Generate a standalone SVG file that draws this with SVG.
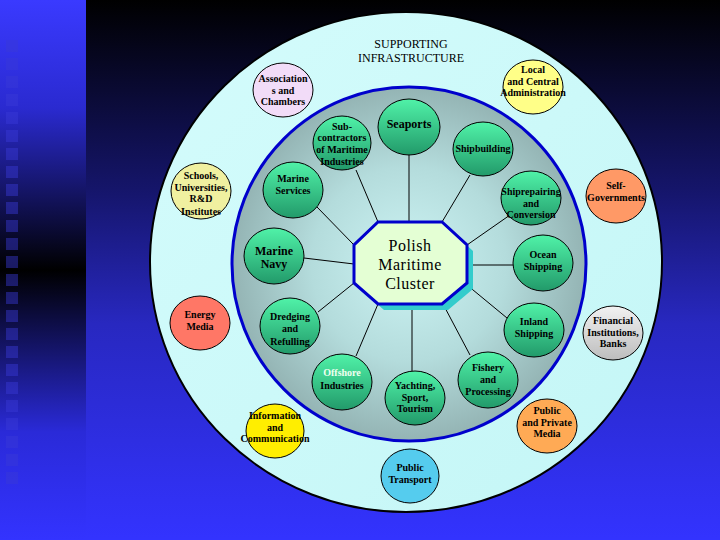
<svg xmlns="http://www.w3.org/2000/svg" width="720" height="540" viewBox="0 0 720 540">
<defs>
<linearGradient id="bgMain" x1="0" y1="0" x2="0" y2="1">
<stop offset="0" stop-color="#000000"/>
<stop offset="0.35" stop-color="#15156a"/>
<stop offset="0.6" stop-color="#2828c0"/>
<stop offset="1" stop-color="#3333ff"/>
</linearGradient>
<linearGradient id="bgStrip" x1="0" y1="0" x2="0" y2="1">
<stop offset="0" stop-color="#3a3aff"/>
<stop offset="0.2" stop-color="#2a2ad0"/>
<stop offset="0.5" stop-color="#000000"/>
<stop offset="0.8" stop-color="#2a2ad8"/>
<stop offset="1" stop-color="#3333ff"/>
</linearGradient>
<linearGradient id="outerFill" x1="0" y1="0" x2="1" y2="1">
<stop offset="0" stop-color="#d4fcfc"/>
<stop offset="1" stop-color="#c4f6f6"/>
</linearGradient>
<radialGradient id="innerFill" cx="0.5" cy="0.5" r="0.5">
<stop offset="0" stop-color="#cdf4f4"/>
<stop offset="0.55" stop-color="#b4dcdc"/>
<stop offset="1" stop-color="#94b4b4"/>
</radialGradient>
<linearGradient id="green" x1="0" y1="0" x2="0" y2="1">
<stop offset="0" stop-color="#50f2a8"/>
<stop offset="1" stop-color="#229a6a"/>
</linearGradient>
<linearGradient id="gray" x1="0" y1="0" x2="0" y2="1">
<stop offset="0" stop-color="#f2f2f2"/>
<stop offset="1" stop-color="#bdbdbd"/>
</linearGradient>
<style>
.n{stroke:#000;stroke-width:1}
.g{fill:url(#green)}
.t{font-family:"Liberation Serif","Times New Roman",serif;font-weight:bold;font-size:10px;fill:#000;text-anchor:middle}
.big{font-size:12px}
.sup{font-family:"Liberation Serif","Times New Roman",serif;font-size:12px;fill:#000;text-anchor:middle}
.ctr{font-family:"Liberation Serif","Times New Roman",serif;font-size:16px;fill:#000;text-anchor:middle;letter-spacing:0.5px}
.sq{fill:#3a3ad8;opacity:0.45}
</style>
</defs>

<g id="background">
<rect x="0" y="0" width="720" height="540" fill="url(#bgMain)"/>
<rect x="0" y="0" width="86" height="540" fill="url(#bgStrip)"/>
<g id="squares">
<rect class="sq" x="6" y="40" width="12" height="12"/>
<rect class="sq" x="6" y="58" width="12" height="12"/>
<rect class="sq" x="6" y="76" width="12" height="12"/>
<rect class="sq" x="6" y="94" width="12" height="12"/>
<rect class="sq" x="6" y="112" width="12" height="12"/>
<rect class="sq" x="6" y="130" width="12" height="12"/>
<rect class="sq" x="6" y="148" width="12" height="12"/>
<rect class="sq" x="6" y="166" width="12" height="12"/>
<rect class="sq" x="6" y="184" width="12" height="12"/>
<rect class="sq" x="6" y="202" width="12" height="12"/>
<rect class="sq" x="6" y="220" width="12" height="12"/>
<rect class="sq" x="6" y="238" width="12" height="12"/>
<rect class="sq" x="6" y="256" width="12" height="12"/>
<rect class="sq" x="6" y="274" width="12" height="12"/>
<rect class="sq" x="6" y="292" width="12" height="12"/>
<rect class="sq" x="6" y="310" width="12" height="12"/>
<rect class="sq" x="6" y="328" width="12" height="12"/>
<rect class="sq" x="6" y="346" width="12" height="12"/>
<rect class="sq" x="6" y="364" width="12" height="12"/>
<rect class="sq" x="6" y="382" width="12" height="12"/>
<rect class="sq" x="6" y="400" width="12" height="12"/>
<rect class="sq" x="6" y="418" width="12" height="12"/>
<rect class="sq" x="6" y="436" width="12" height="12"/>
<rect class="sq" x="6" y="454" width="12" height="12"/>
<rect class="sq" x="6" y="472" width="12" height="12"/>
</g>
</g>

<g id="rings">
<ellipse cx="406" cy="262" rx="256" ry="250" fill="url(#outerFill)" stroke="#000" stroke-width="2"/>
<circle cx="409" cy="264" r="177" fill="url(#innerFill)" stroke="#0000cc" stroke-width="3"/>
</g>

<g id="title">
<text class="sup" x="411" y="48">SUPPORTING</text>
<text class="sup" x="411" y="62">INFRASTRUCTURE</text>
</g>

<g id="connectors" stroke="#000" stroke-width="1" fill="none">
<line x1="409" y1="154" x2="409" y2="222"/>
<line x1="356" y1="170" x2="378" y2="222"/>
<line x1="470" y1="175" x2="442" y2="222"/>
<line x1="317" y1="207" x2="354" y2="245"/>
<line x1="510" y1="215" x2="467" y2="245"/>
<line x1="304" y1="258" x2="354" y2="264"/>
<line x1="467" y1="265" x2="513" y2="265"/>
<line x1="318" y1="312" x2="354" y2="283"/>
<line x1="467" y1="285" x2="507" y2="318"/>
<line x1="356" y1="356" x2="378" y2="304"/>
<line x1="412" y1="304" x2="412" y2="371"/>
<line x1="443" y1="304" x2="470" y2="355"/>
</g>

<g id="cluster">
<polygon points="384,228 448,228 473,251 473,289 448,310 384,310 360,289 360,251" fill="#33cccc"/>
<polygon points="378,222 442,222 467,245 467,283 442,304 378,304 354,283 354,245" fill="#e4ffd4" stroke="#0000cc" stroke-width="3"/>
<text class="ctr" x="410" y="251">Polish</text>
<text class="ctr" x="410" y="270">Maritime</text>
<text class="ctr" x="410" y="289">Cluster</text>
</g>

<g id="seaports"><ellipse class="n g" cx="409" cy="127" rx="31" ry="28"/><text class="t big" x="409" y="128">Seaports</text></g>
<g id="subcontractors"><ellipse class="n g" cx="342" cy="143" rx="29" ry="27"/>
<text class="t" x="342" y="130">Sub-</text><text class="t" x="342" y="141">contractors</text><text class="t" x="342" y="153">of Maritime</text><text class="t" x="342" y="165">Industries</text></g>
<g id="shipbuilding"><ellipse class="n g" cx="483" cy="149" rx="30" ry="27"/><text class="t" x="483" y="152">Shipbuilding</text></g>
<g id="marine-services"><ellipse class="n g" cx="293" cy="190" rx="30" ry="28"/>
<text class="t" x="293" y="182">Marine</text><text class="t" x="293" y="194">Services</text></g>
<g id="shiprepairing"><ellipse class="n g" cx="531" cy="198" rx="30" ry="27"/>
<text class="t" x="531" y="195">Shiprepairing</text><text class="t" x="531" y="207">and</text><text class="t" x="531" y="218">Conversion</text></g>
<g id="marine-navy"><ellipse class="n g" cx="274" cy="256" rx="30" ry="28"/>
<text class="t big" x="274" y="255">Marine</text><text class="t big" x="274" y="268">Navy</text></g>
<g id="ocean-shipping"><ellipse class="n g" cx="543" cy="263" rx="30" ry="28"/>
<text class="t" x="543" y="258">Ocean</text><text class="t" x="543" y="270">Shipping</text></g>
<g id="dredging"><ellipse class="n g" cx="290" cy="326" rx="30" ry="28"/>
<text class="t" x="290" y="320">Dredging</text><text class="t" x="290" y="332">and</text><text class="t" x="290" y="345">Refulling</text></g>
<g id="inland-shipping"><ellipse class="n g" cx="534" cy="330" rx="30" ry="27"/>
<text class="t" x="534" y="325">Inland</text><text class="t" x="534" y="337">Shipping</text></g>
<g id="offshore"><ellipse class="n g" cx="342" cy="382" rx="30" ry="28"/>
<text class="t" x="342" y="376" style="fill:#f0fff0">Offshore</text><text class="t" x="342" y="389">Industries</text></g>
<g id="yachting"><ellipse class="n g" cx="415" cy="398" rx="30" ry="27"/>
<text class="t" x="415" y="389">Yachting,</text><text class="t" x="415" y="401">Sport,</text><text class="t" x="415" y="412">Tourism</text></g>
<g id="fishery"><ellipse class="n g" cx="488" cy="380" rx="30" ry="28"/>
<text class="t" x="488" y="371">Fishery</text><text class="t" x="488" y="383">and</text><text class="t" x="488" y="395">Processing</text></g>

<g id="associations"><ellipse class="n" cx="283" cy="90" rx="30" ry="27" fill="#f2dcf8"/>
<text class="t" x="283" y="82">Association</text><text class="t" x="283" y="94">s and</text><text class="t" x="283" y="105">Chambers</text></g>
<g id="local-admin"><ellipse class="n" cx="533" cy="87" rx="30" ry="27" fill="#ffff88"/>
<text class="t" x="533" y="73">Local</text><text class="t" x="533" y="85">and Central</text><text class="t" x="533" y="96">Administration</text></g>
<g id="schools"><ellipse class="n" cx="201" cy="191" rx="30" ry="28" fill="#f0f0a0"/>
<text class="t" x="201" y="179">Schools,</text><text class="t" x="201" y="191">Universities,</text><text class="t" x="201" y="202">R&amp;D</text><text class="t" x="201" y="215">Institutes</text></g>
<g id="self-governments"><ellipse class="n" cx="616" cy="196" rx="30" ry="27" fill="#ff9966"/>
<text class="t" x="616" y="189">Self-</text><text class="t" x="616" y="201">Governments</text></g>
<g id="energy-media"><ellipse class="n" cx="200" cy="323" rx="30" ry="27" fill="#ff7766"/>
<text class="t" x="200" y="318">Energy</text><text class="t" x="200" y="330">Media</text></g>
<g id="financial"><ellipse class="n" cx="613" cy="333" rx="30" ry="27" fill="url(#gray)"/>
<text class="t" x="613" y="324">Financial</text><text class="t" x="613" y="336">Institutions,</text><text class="t" x="613" y="347">Banks</text></g>
<g id="public-private-media"><ellipse class="n" cx="547" cy="426" rx="30" ry="27" fill="#ffaa55"/>
<text class="t" x="547" y="414">Public</text><text class="t" x="547" y="426">and Private</text><text class="t" x="547" y="437">Media</text></g>
<g id="information"><ellipse class="n" cx="275" cy="431" rx="29" ry="27" fill="#ffee00"/>
<text class="t" x="275" y="419">Information</text><text class="t" x="275" y="431">and</text><text class="t" x="275" y="442">Communication</text></g>
<g id="public-transport"><ellipse class="n" cx="410" cy="476" rx="29" ry="27" fill="#55ccee"/>
<text class="t" x="410" y="471">Public</text><text class="t" x="410" y="483">Transport</text></g>
</svg>
